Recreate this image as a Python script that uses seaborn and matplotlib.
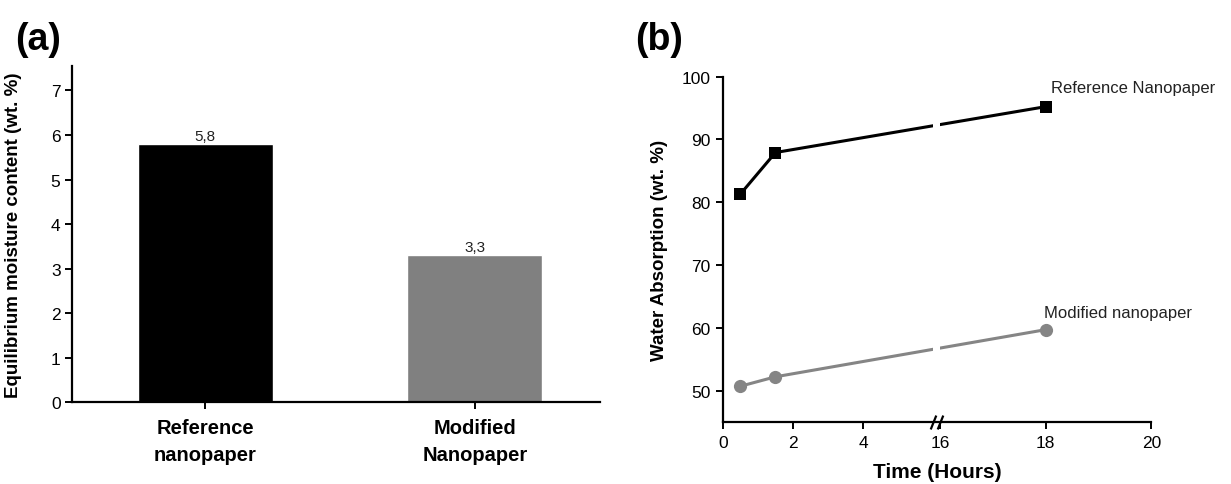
import numpy as np
import pandas as pd
import seaborn as sns
import matplotlib.pyplot as plt

# panel (a) data
samples = ['Reference\nnanopaper', 'Modified\nNanopaper']
moisture = [5.8, 3.3]
moisture_labels = ['5,8', '3,3']
bar_colors = ['#000000', '#808080']

# panel (b) data
hours = [0.5, 1.5, 18]
ref_absorption = [81.3, 87.9, 95.2]
mod_absorption = [50.7, 52.2, 59.7]
time_ticks = [0, 2, 4, 16, 18, 20]


# broken time axis: 0-6 h on one scale, 16-20 h stretched
def fwd(x):
    x = np.asarray(x, dtype=float)
    return np.where(x <= 6, x, np.where(x < 16, 6 + (x - 6) * 0.02, 6.2 + (x - 16) * 1.51))


def inv(y):
    y = np.asarray(y, dtype=float)
    return np.where(y <= 6, y, np.where(y < 6.2, 6 + (y - 6) / 0.02, 16 + (y - 6.2) / 1.51))


sns.set_style('ticks')
plt.rcParams['font.family'] = ['Liberation Sans', 'DejaVu Sans']
plt.rcParams['axes.linewidth'] = 1.6
plt.rcParams['axes.edgecolor'] = 'black'
plt.rcParams['axes.labelcolor'] = 'black'
plt.rcParams['text.color'] = 'black'
plt.rcParams['xtick.color'] = 'black'
plt.rcParams['ytick.color'] = 'black'
plt.rcParams['xtick.major.width'] = 1.4
plt.rcParams['ytick.major.width'] = 1.4
plt.rcParams['xtick.major.size'] = 5
plt.rcParams['ytick.major.size'] = 5

fig = plt.figure(figsize=(12.31, 4.85), dpi=100)
ax1 = fig.add_axes([0.0582, 0.1685, 0.4292, 0.6934])
ax2 = fig.add_axes([0.5873, 0.1278, 0.348, 0.7124])

# ---- (a) bar chart
df_a = pd.DataFrame({'sample': samples, 'moisture': moisture})
sns.barplot(data=df_a, x='sample', y='moisture', hue='sample', palette=bar_colors,
            saturation=1, width=0.5, legend=False, ax=ax1)
for cont, lab in zip(ax1.containers, moisture_labels):
    ax1.bar_label(cont, labels=[lab], padding=1, fontsize=11, color='#222222')

ax1.set_xlim(-0.494, 1.463)
ax1.set_ylim(0, 7.55)
ax1.set_yticks(range(0, 8))
ax1.set_xlabel('')
ax1.set_ylabel('Equilibrium moisture content (wt. %)', fontsize=13.5, fontweight='bold')
ax1.yaxis.set_label_coords(-0.094, 0.5)
ax1.tick_params(axis='y', labelsize=12.5, pad=3)
ax1.tick_params(axis='x', labelsize=14.5, pad=6)
for t in ax1.get_xticklabels():
    t.set_fontweight('bold')
    t.set_linespacing(1.55)
ax1.spines[['top', 'right']].set_visible(False)

# ---- (b) line chart
sns.lineplot(x=hours, y=ref_absorption, color='black', marker='s', markersize=8.5,
             markeredgecolor='black', markeredgewidth=0, linewidth=2.2, ax=ax2)
sns.lineplot(x=hours, y=mod_absorption, color='#858585', marker='o', markersize=9.5,
             markeredgecolor='#858585', markeredgewidth=0, linewidth=2.2, ax=ax2)
ax2.set_xscale('function', functions=(fwd, inv))
ax2.set_xlim(0, 20)
ax2.set_ylim(45, 100)
ax2.set_xticks(time_ticks)
ax2.set_xticklabels([str(t) for t in time_ticks])
ax2.set_yticks(range(50, 101, 10))
ax2.tick_params(axis='both', labelsize=12.5, pad=4)
ax2.set_xlabel('Time (Hours)', fontsize=15, fontweight='bold', labelpad=9)
ax2.set_ylabel('Water Absorption (wt. %)', fontsize=13.5, fontweight='bold')
ax2.yaxis.set_label_coords(-0.128, 0.5)
ax2.spines[['top', 'right']].set_visible(False)

# gap in the lines and break marks on the axis
ax2.axvspan(6, 16, ymin=0.02, ymax=1, color='white', zorder=3, lw=0)
ax2.plot([6, 16], [0, 0], transform=ax2.get_xaxis_transform(), ls='none',
         marker=[(-0.4, -1), (0.4, 1)], markersize=10, markeredgewidth=1.6,
         color='black', clip_on=False, zorder=4)

ax2.text(18.1, 98.3, 'Reference Nanopaper', fontsize=12, va='center', ha='left',
         color='#222222', clip_on=False)
ax2.text(17.97, 62.5, 'Modified nanopaper', fontsize=12, va='center', ha='left',
         color='#222222', clip_on=False)

fig.text(0.012, 0.955, '(a)', fontsize=27, fontweight='bold', va='top', ha='left')
fig.text(0.516, 0.955, '(b)', fontsize=27, fontweight='bold', va='top', ha='left')

fig.savefig('out.png', dpi=100)
